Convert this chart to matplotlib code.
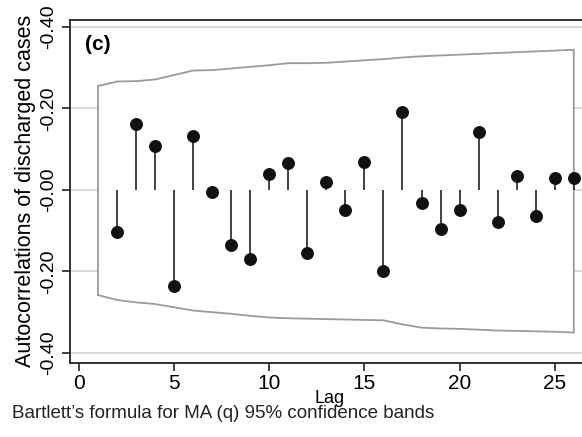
import matplotlib
matplotlib.use("Agg")
import matplotlib.pyplot as plt

plt.rcParams["font.family"] = ["Liberation Sans", "DejaVu Sans"]

# Autocorrelations
lags = list(range(2, 27))
acf = [-0.103, 0.161, 0.109, -0.235, 0.132, -0.006, -0.134, -0.170, 0.039,
       0.065, -0.154, 0.019, -0.049, 0.068, -0.200, 0.192, -0.031, -0.096,
       -0.050, 0.143, -0.078, 0.034, -0.065, 0.029, 0.029]

# Bartlett confidence band
band_lags = list(range(1, 27))
band_upper = [0.255, 0.266, 0.267, 0.271, 0.282, 0.293, 0.294, 0.298, 0.302,
              0.306, 0.311, 0.311, 0.312, 0.315, 0.318, 0.321, 0.325, 0.328,
              0.330, 0.332, 0.334, 0.336, 0.338, 0.340, 0.342, 0.344]
band_lower = [-0.258, -0.270, -0.276, -0.280, -0.288, -0.296, -0.300, -0.304,
              -0.309, -0.313, -0.315, -0.316, -0.317, -0.318, -0.319, -0.320,
              -0.330, -0.338, -0.340, -0.341, -0.343, -0.345, -0.346, -0.347,
              -0.348, -0.350]

yticks = [0.4, 0.2, 0.0, -0.2, -0.4]
ytick_labels = ["-0.40", "-0.20", "-0.00", "-0.20", "-0.40"]
xticks = [0, 5, 10, 15, 20, 25]

fig = plt.figure(figsize=(5.82, 4.37), dpi=100)
ax = fig.add_axes([70 / 582, 74.3 / 437, 519 / 582, 342.7 / 437])

# light grid under the band
for yv in yticks:
    ax.axhline(yv, color="#d4d4d4", lw=1.2, zorder=0)

# band polygon, white fill hides the grid inside
poly_x = band_lags + band_lags[::-1]
poly_y = band_upper + band_lower[::-1]
ax.fill(poly_x, poly_y, facecolor="white", edgecolor="#9a9a9a", lw=1.3, zorder=1)

ax.vlines(lags, 0, acf, color="#222222", lw=1.2, zorder=2)
ax.plot(lags, acf, "o", color="#111111", markersize=8.3, zorder=3)

ax.set_xlim(-0.47, 26.8)
ax.set_ylim(-0.424, 0.417)
ax.set_xticks(xticks)
ax.set_yticks(yticks)
ax.set_yticklabels(ytick_labels, rotation=90, va="center")
ax.tick_params(axis="both", length=6, width=1.2, color="#222222")
ax.tick_params(axis="x", labelsize=15, pad=2)
ax.tick_params(axis="y", labelsize=14, pad=3)

for side in ["left", "bottom", "top"]:
    ax.spines[side].set_linewidth(1.3)
    ax.spines[side].set_color("#222222")
ax.spines["right"].set_visible(False)

ax.set_xlabel("Lag", fontsize=13, labelpad=-2)
ax.set_ylabel("Autocorrelations of discharged cases", fontsize=15.5, labelpad=3)

ax.text(15 / 519, 1 - 24 / 342.7, "(c)", transform=ax.transAxes, fontsize=15,
        fontweight="bold", va="center", ha="left")
fig.text(12 / 582, 1 - 414 / 437, "Bartlett\u2019s formula for MA (q) 95% confidence bands",
         fontsize=13.5, va="center", ha="left", color="#222222")

fig.savefig("out.png", dpi=100)
